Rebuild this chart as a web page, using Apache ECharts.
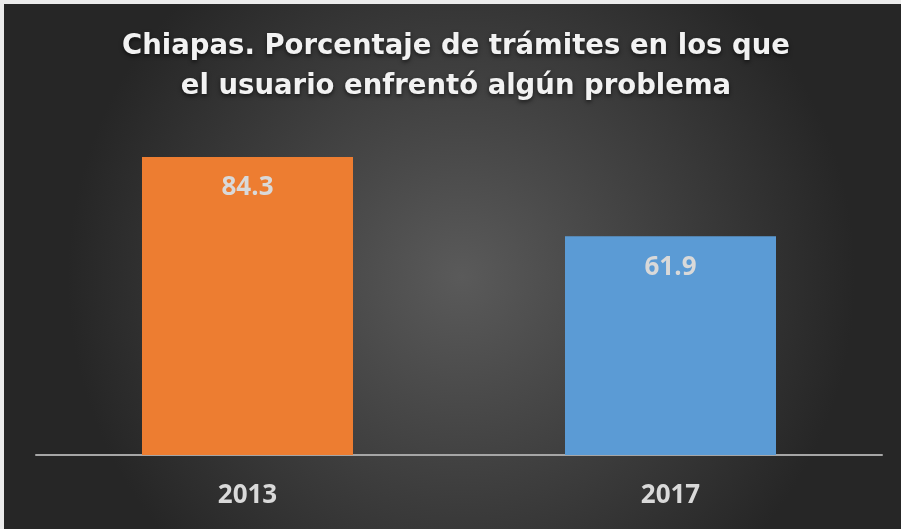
<!DOCTYPE html>
<html><head><meta charset="utf-8">
<script src="https://cdn.jsdelivr.net/npm/echarts@6/dist/echarts.min.js"></script>
<style>html,body{margin:0;padding:0;background:#ececec;}#c{position:absolute;left:4px;top:4px;width:897px;height:525px;}</style>
</head><body><div id="c"></div>
<script>
const categories = ['2013', '2017'];
const values = [84.3, 61.9];
const barColors = ['#ED7D31', '#5B9BD5'];
const titleLines = ['Chiapas. Porcentaje de trámites en los que', 'el usuario enfrentó algún problema'];

const chart = echarts.init(document.getElementById('c'));
chart.setOption({
  backgroundColor: {
    type: 'radial', x: 0.51, y: 0.52, r: 0.75,
    colorStops: [{offset: 0, color: '#5a5a5a'}, {offset: 1, color: '#262626'}]
  },
  title: {
    text: titleLines.join('\n'),
    left: 447, top: 18,
    textAlign: 'center',
    textStyle: {
      color: '#f2f2f2', fontFamily: 'DejaVu Sans', fontWeight: 'bold', fontSize: 27.5,
      lineHeight: 40, textShadowColor: 'rgba(0,0,0,0.6)', textShadowBlur: 4, textShadowOffsetY: 2
    }
  },
  grid: {left: 32, right: 19, top: 97.5, bottom: 74},
  xAxis: {
    type: 'category', data: categories,
    axisTick: {show: false},
    axisLine: {lineStyle: {color: '#a6a6a6', width: 2}},
    axisLabel: {color: '#d9d9d9', fontFamily: 'Open Sans', fontWeight: 'bold', fontSize: 26, margin: 28}
  },
  yAxis: {type: 'value', min: 0, max: 100, show: false, splitLine: {show: false}},
  series: [{
    type: 'bar', barWidth: 211,
    data: values.map((v, i) => ({value: v, itemStyle: {color: barColors[i]}})),
    label: {show: true, position: 'insideTop', distance: 18, color: '#d9d9d9',
      fontFamily: 'Open Sans', fontWeight: 'bold', fontSize: 26}
  }]
});
</script></body></html>
